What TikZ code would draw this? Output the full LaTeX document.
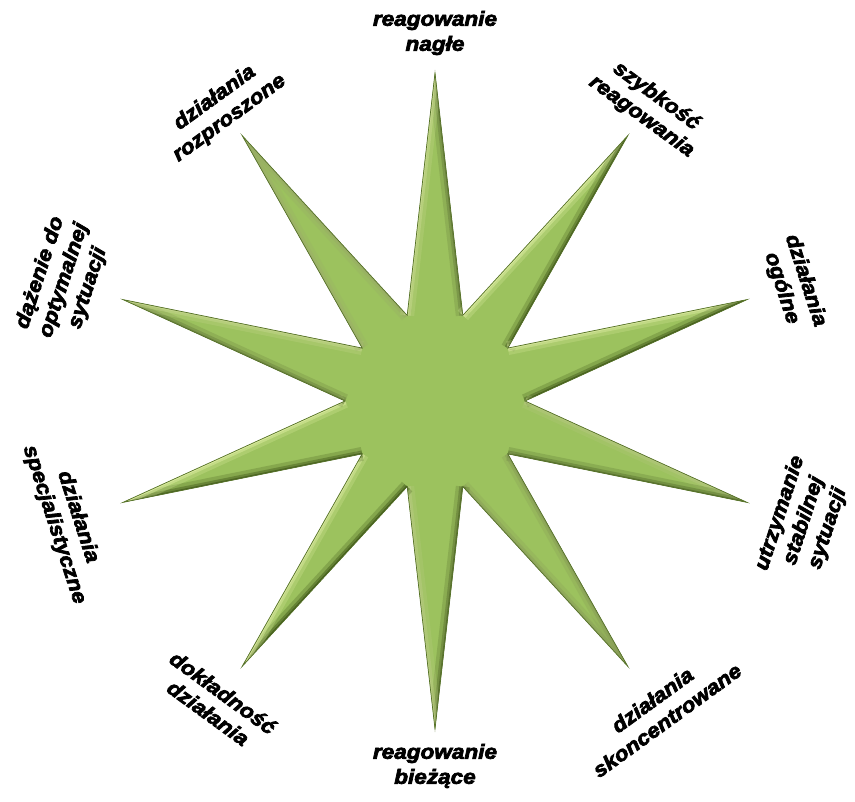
\documentclass[tikz,border=0pt]{standalone}
\usepackage{fontspec}
\font\labraw="Liberation Sans/BI:embolden=3.5;extend=1.1;mapping=tex-text" at 20.5pt
\newcommand\labfont{\labraw\baselineskip=25pt}
\definecolor{base}{HTML}{9CC25E}
\definecolor{hl}{HTML}{E4F2A8}
\definecolor{sh}{HTML}{3E5618}
\definecolor{rim}{HTML}{56722A}
\tikzset{
  lab/.style={align=center, text=black, font=\labfont, inner sep=0pt},
}
\begin{document}
\begin{tikzpicture}[x=1pt,y=1pt]
\useasboundingbox (0,0) rectangle (855,802);
\begin{scope}[shift={(435,401)}]
  % star vertices
  \foreach \k in {0,...,9}{
    \pgfmathsetmacro\a{90-36*\k}
    \coordinate (o\k) at (\a:328pt);
    \coordinate (i\k) at (\a-18:90pt);
  }
  \coordinate (o10) at (o0);
  \def\starpath{(o0) -- (i0) -- (o1) -- (i1) -- (o2) -- (i2) -- (o3) -- (i3) -- (o4) -- (i4) -- (o5) -- (i5) -- (o6) -- (i6) -- (o7) -- (i7) -- (o8) -- (i8) -- (o9) -- (i9) -- cycle}
  \fill[base] \starpath;
  \begin{scope}
    \clip \starpath;
    \foreach \k in {0,...,9}{
      \pgfmathsetmacro\a{90-36*\k}
      % edge outer k -> inner k
      \pgfmathsetmacro\dx{0.9*cos(\a-18)-3.28*cos(\a)}
      \pgfmathsetmacro\dy{0.9*sin(\a-18)-3.28*sin(\a)}
      \pgfmathsetmacro\len{sqrt(\dx*\dx+\dy*\dy)}
      \pgfmathtruncatemacro\p{50+50*((-\dy)*(-0.6)+(\dx)*0.8)/\len}
      \colorlet{ec}{hl!\p!sh}
      \draw[ec, line width=14pt, opacity=0.25] (o\k) -- (i\k);
      \draw[ec, line width=7pt, opacity=0.45] (o\k) -- (i\k);
      \draw[ec, line width=2.5pt, opacity=0.8] (o\k) -- (i\k);
      % edge inner k -> outer k+1
      \pgfmathtruncatemacro\kk{\k+1}
      \pgfmathsetmacro\ex{3.28*cos(\a-36)-0.9*cos(\a-18)}
      \pgfmathsetmacro\ey{3.28*sin(\a-36)-0.9*sin(\a-18)}
      \pgfmathsetmacro\len{sqrt(\ex*\ex+\ey*\ey)}
      \pgfmathtruncatemacro\q{50+50*((-\ey)*(-0.6)+(\ex)*0.8)/\len}
      \colorlet{ec}{hl!\q!sh}
      \draw[ec, line width=14pt, opacity=0.25] (i\k) -- (o\kk);
      \draw[ec, line width=7pt, opacity=0.45] (i\k) -- (o\kk);
      \draw[ec, line width=2.5pt, opacity=0.8] (i\k) -- (o\kk);
    }
  \end{scope}
  \draw[rim, line width=0.7pt, line join=miter] \starpath;
  % labels
  \foreach \ang/\rr/\txt [count=\n] in {
     90/368/{reagowanie\\nagłe},
     54/364/{szybkość\\reagowania},
     18/377/{działania\\ogólne},
    -18/388/{utrzymanie\\stabilnej\\sytuacji},
    -54/382/{działania\\skoncentrowane},
    -90/365/{reagowanie\\bieżące},
   -126/373/{dokładność\\działania},
   -162/388/{działania\\specjalistyczne},
    162/390/{dążenie do\\optymalnej\\sytuacji},
    126/362/{działania\\rozproszone}}{
    \pgfmathsetmacro\rot{\ang>0 ? \ang-90 : \ang+90}
    \node[lab, rotate=\rot] (lab\n) at (\ang:\rr pt) {\txt};
  }
\end{scope}
\end{tikzpicture}
\end{document}
